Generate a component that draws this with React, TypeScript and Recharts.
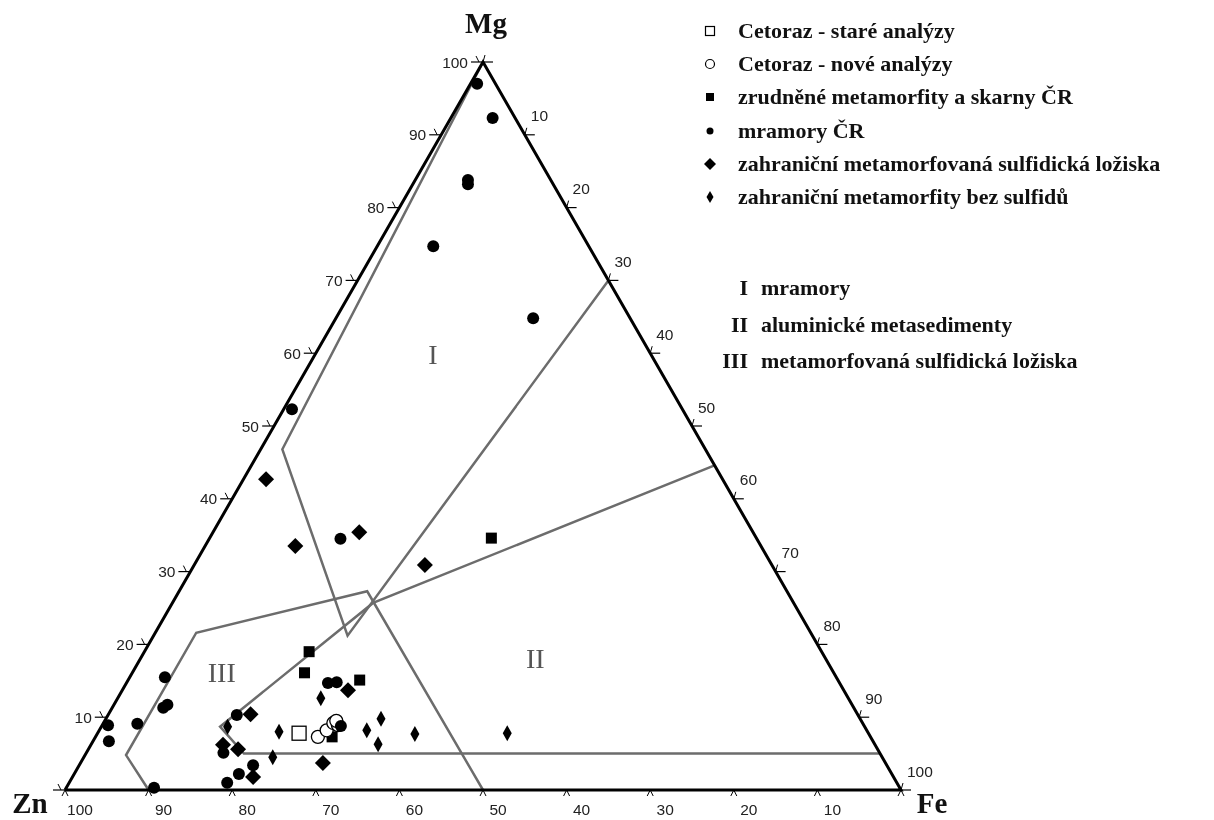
import React from 'react';
import { ScatterChart, Scatter, XAxis, YAxis, Legend } from 'recharts';

// Ternary values given as [Mg %, Fe %]  (Zn % = 100 - Mg - Fe)
type MgFe = [number, number];

const stareAnalyzy: MgFe[] = [[7.8, 24.1]];
const noveAnalyzy: MgFe[] = [[7.3, 26.6], [8.2, 27.2], [9.2, 27.5], [8.9, 28.2], [9.5, 27.7]];
const zrudneneSkarny: MgFe[] = [[34.6, 33.7], [19.0, 19.7], [16.1, 20.6], [15.1, 27.7], [7.3, 28.3]];
const mramoryCR: MgFe[] = [
  [97.0, 0.8], [92.3, 5.0], [83.8, 6.3], [83.2, 6.6], [74.7, 6.7], [64.8, 23.6], [52.3, 1.0],
  [34.5, 15.7], [15.5, 4.2], [11.7, 6.4], [11.3, 6.1], [9.1, 4.1], [8.9, 0.7], [6.7, 1.9],
  [0.3, 10.5], [10.3, 15.4], [5.1, 16.4], [3.4, 20.8], [2.2, 19.7], [1.0, 18.9], [14.7, 24.1],
  [14.8, 25.1], [8.8, 28.6],
];
const sulfidickaLoziska: MgFe[] = [
  [42.7, 2.7], [33.5, 10.8], [35.4, 17.5], [30.9, 27.6], [13.7, 27.0], [10.4, 17.0],
  [6.2, 15.8], [5.6, 17.9], [1.8, 21.6], [3.7, 29.0],
];
const bezSulfidu: MgFe[] = [
  [8.7, 15.1], [4.5, 22.6], [8.0, 21.6], [12.6, 24.3], [8.2, 32.0], [9.8, 32.9],
  [6.3, 34.3], [7.7, 38.0], [7.8, 49.0],
];

// Field boundaries
const fieldI: MgFe[] = [[100, 0], [46.8, 2.6], [21.2, 23.2], [70, 30]];
const fieldII: MgFe[] = [[44.6, 55.4], [25.7, 24.0], [8.7, 14.2], [5.0, 18.9], [5.0, 95.0]];
const fieldIII: MgFe[] = [[0, 10], [4.8, 4.9], [21.6, 4.9], [27.3, 22.5], [0, 50]];
const fieldNames = ['I', 'II', 'III'];
const fieldLabelPos: MgFe[] = [[59.8, 14.1], [18.1, 47.2], [16.1, 10.7]];
const fieldLegendText = ['mramory', 'aluminické metasedimenty', 'metamorfovaná sulfidická ložiska'];

// Triangle vertices
const vertexNames = ['Zn', 'Fe', 'Mg'];
const vertices: MgFe[] = [[0, 0], [0, 100], [100, 0]];

const tickValues = [0, 10, 20, 30, 40, 50, 60, 70, 80, 90, 100];

const legendLabels = [
  'Cetoraz - staré analýzy',
  'Cetoraz - nové analýzy',
  'zrudněné metamorfity a skarny ČR',
  'mramory ČR',
  'zahraniční metamorfovaná sulfidická ložiska',
  'zahraniční metamorfity bez sulfidů',
];

const toXY = (p: MgFe) => ({ x: p[1] + p[0] / 2, y: p[0] });

const triangleData = [...vertices, vertices[0]].map(toXY);
const fieldIData = fieldI.map(toXY);
const fieldIIData = fieldII.map(toXY);
const fieldIIIData = fieldIII.map(toXY);
const fieldLabelData = fieldLabelPos.map((p, i) => ({ ...toXY(p), label: fieldNames[i] }));
const vertexData = vertices.map((p, i) => ({ ...toXY(p), label: vertexNames[i] }));

const lbl = (v: number) => (v === 0 ? '' : String(v));
const leftTicks = tickValues.map((v) => ({ ...toXY([v, 0]), label: lbl(v) }));
const bottomTicks = tickValues.map((v) => ({ ...toXY([0, 100 - v]), label: lbl(v) }));
const rightTicks = tickValues.map((v) => ({ ...toXY([100 - v, v]), label: lbl(v) }));

const TICK_FONT = '"Liberation Sans", Arial, sans-serif';
const SERIF = '"Liberation Serif", "Times New Roman", serif';
const GRAY = '#6c6c6c';
const W = 1198;
const H = 812;

const Nothing = () => <g />;

const LeftTick = (p: any) => {
  const { cx, cy, payload } = p;
  return (
    <g>
      <line x1={cx - 12} y1={cy} x2={cx} y2={cy} stroke="#000" strokeWidth={1.2} />
      <line x1={cx - 7} y1={cy - 6} x2={cx - 4} y2={cy} stroke="#000" strokeWidth={1} />
      {payload.label && (
        <text x={cx - 15} y={cy} textAnchor="end" dominantBaseline="central" fontSize={15.5} fontFamily={TICK_FONT} fill="#222">
          {payload.label}
        </text>
      )}
    </g>
  );
};

const BottomTick = (p: any) => {
  const { cx, cy, payload } = p;
  return (
    <g>
      <polyline points={`${cx - 3},${cy + 6} ${cx},${cy} ${cx + 3},${cy + 6}`} fill="none" stroke="#000" strokeWidth={1} />
      {payload.label && (
        <text x={cx + 15} y={cy + 19} textAnchor="middle" dominantBaseline="central" fontSize={15.5} fontFamily={TICK_FONT} fill="#222">
          {payload.label}
        </text>
      )}
    </g>
  );
};

const RightTick = (p: any) => {
  const { cx, cy, payload } = p;
  return (
    <g>
      <line x1={cx} y1={cy} x2={cx + 10} y2={cy} stroke="#000" strokeWidth={1.2} />
      <line x1={cx + 2} y1={cy - 7} x2={cx} y2={cy} stroke="#000" strokeWidth={1} />
      {payload.label && (
        <text x={cx + 6} y={cy - 19} textAnchor="start" dominantBaseline="central" fontSize={15.5} fontFamily={TICK_FONT} fill="#222">
          {payload.label}
        </text>
      )}
    </g>
  );
};

// offsets of each vertex title (text baseline) from its vertex, in px
const titleOffsets: Record<string, [number, number]> = { Zn: [-35, 23], Fe: [31, 23], Mg: [3, -29] };
const VertexTitle = (p: any) => {
  const { cx, cy, payload } = p;
  const [dx, dy] = titleOffsets[payload.label];
  return (
    <text x={cx + dx} y={cy + dy} textAnchor="middle" fontSize={29} fontWeight="bold" fontFamily={SERIF} fill="#111">
      {payload.label}
    </text>
  );
};

const FieldLabel = (p: any) => {
  const { cx, cy, payload } = p;
  return (
    <text x={cx} y={cy} textAnchor="middle" dominantBaseline="central" fontSize={28} fontFamily={SERIF} fill="#555">
      {payload.label}
    </text>
  );
};

const FilledCircle = (p: any) => <circle cx={p.cx} cy={p.cy} r={6} fill="#000" />;
const FilledSquare = (p: any) => <rect x={p.cx - 5.5} y={p.cy - 5.5} width={11} height={11} fill="#000" />;
const OpenSquare = (p: any) => (
  <rect x={p.cx - 7} y={p.cy - 7} width={14} height={14} fill="#fff" stroke="#000" strokeWidth={1.3} />
);
const OpenCircle = (p: any) => <circle cx={p.cx} cy={p.cy} r={6.5} fill="#fff" stroke="#000" strokeWidth={1.3} />;
const Diamond = (p: any) => (
  <polygon points={`${p.cx},${p.cy - 8} ${p.cx + 8},${p.cy} ${p.cx},${p.cy + 8} ${p.cx - 8},${p.cy}`} fill="#000" />
);
const ThinDiamond = (p: any) => (
  <polygon points={`${p.cx},${p.cy - 8} ${p.cx + 4.5},${p.cy} ${p.cx},${p.cy + 8} ${p.cx - 4.5},${p.cy}`} fill="#000" />
);

const legendSymbols = [
  <rect x={4.5} y={4.5} width={9} height={9} fill="#fff" stroke="#000" strokeWidth={1.2} />,
  <circle cx={9} cy={9} r={4.5} fill="#fff" stroke="#000" strokeWidth={1.2} />,
  <rect x={5} y={5} width={8} height={8} fill="#000" />,
  <circle cx={9} cy={9} r={3.5} fill="#000" />,
  <polygon points="9,3 15,9 9,15 3,9" fill="#000" />,
  <polygon points="9,3 12.5,9 9,15 5.5,9" fill="#000" />,
];

const LegendContent = () => (
  <div style={{ position: 'relative', width: W, height: H, fontFamily: SERIF, color: '#111' }}>
    {legendLabels.map((t, i) => (
      <div key={t} style={{ position: 'absolute', left: 693, top: 9 + i * 33.2, height: 28, display: 'flex', alignItems: 'center' }}>
        <svg width={18} height={18} style={{ marginRight: 19 }}>
          {legendSymbols[i]}
        </svg>
        <span style={{ fontSize: 22, fontWeight: 'bold', whiteSpace: 'nowrap' }}>{t}</span>
      </div>
    ))}
    {fieldLegendText.map((t, i) => (
      <div key={t} style={{ position: 'absolute', left: 680, top: 266 + i * 36.5, height: 28, display: 'flex', alignItems: 'center' }}>
        <span style={{ display: 'inline-block', width: 60, textAlign: 'right', fontSize: 22, fontWeight: 'bold' }}>{fieldNames[i]}</span>
        <span style={{ marginLeft: 13, fontSize: 22, fontWeight: 'bold', whiteSpace: 'nowrap' }}>{t}</span>
      </div>
    ))}
  </div>
);

export default function App() {
  return (
    <div style={{ position: 'fixed', left: 8, top: 8, width: W, height: H }}>
      <ScatterChart width={W} height={H} margin={{ top: 54, right: 305, bottom: 30, left: 57 }}>
        <XAxis type="number" dataKey="x" domain={[0, 100]} hide />
        <YAxis type="number" dataKey="y" domain={[0, 100]} hide />
        <Legend
          layout="vertical"
          align="center"
          verticalAlign="middle"
          content={<LegendContent />}
          wrapperStyle={{ left: 0, top: 0, width: W, height: H, pointerEvents: 'none' }}
        />
        <Scatter name="fieldI" data={fieldIData} line={{ stroke: GRAY, strokeWidth: 2.5 }} shape={<Nothing />} legendType="none" isAnimationActive={false} />
        <Scatter name="fieldII" data={fieldIIData} line={{ stroke: GRAY, strokeWidth: 2.5 }} shape={<Nothing />} legendType="none" isAnimationActive={false} />
        <Scatter name="fieldIII" data={fieldIIIData} line={{ stroke: GRAY, strokeWidth: 2.5 }} shape={<Nothing />} legendType="none" isAnimationActive={false} />
        <Scatter name="triangle" data={triangleData} line={{ stroke: '#000', strokeWidth: 3 }} shape={<Nothing />} legendType="none" isAnimationActive={false} />
        <Scatter name="leftTicks" data={leftTicks} shape={<LeftTick />} legendType="none" isAnimationActive={false} />
        <Scatter name="bottomTicks" data={bottomTicks} shape={<BottomTick />} legendType="none" isAnimationActive={false} />
        <Scatter name="rightTicks" data={rightTicks} shape={<RightTick />} legendType="none" isAnimationActive={false} />
        <Scatter name="vertexTitles" data={vertexData} shape={<VertexTitle />} legendType="none" isAnimationActive={false} />
        <Scatter name="fieldLabels" data={fieldLabelData} shape={<FieldLabel />} legendType="none" isAnimationActive={false} />
        <Scatter name={legendLabels[2]} data={zrudneneSkarny.map(toXY)} shape={<FilledSquare />} isAnimationActive={false} />
        <Scatter name={legendLabels[4]} data={sulfidickaLoziska.map(toXY)} shape={<Diamond />} isAnimationActive={false} />
        <Scatter name={legendLabels[5]} data={bezSulfidu.map(toXY)} shape={<ThinDiamond />} isAnimationActive={false} />
        <Scatter name={legendLabels[0]} data={stareAnalyzy.map(toXY)} shape={<OpenSquare />} isAnimationActive={false} />
        <Scatter name={legendLabels[1]} data={noveAnalyzy.map(toXY)} shape={<OpenCircle />} isAnimationActive={false} />
        <Scatter name={legendLabels[3]} data={mramoryCR.map(toXY)} shape={<FilledCircle />} isAnimationActive={false} />
      </ScatterChart>
    </div>
  );
}
